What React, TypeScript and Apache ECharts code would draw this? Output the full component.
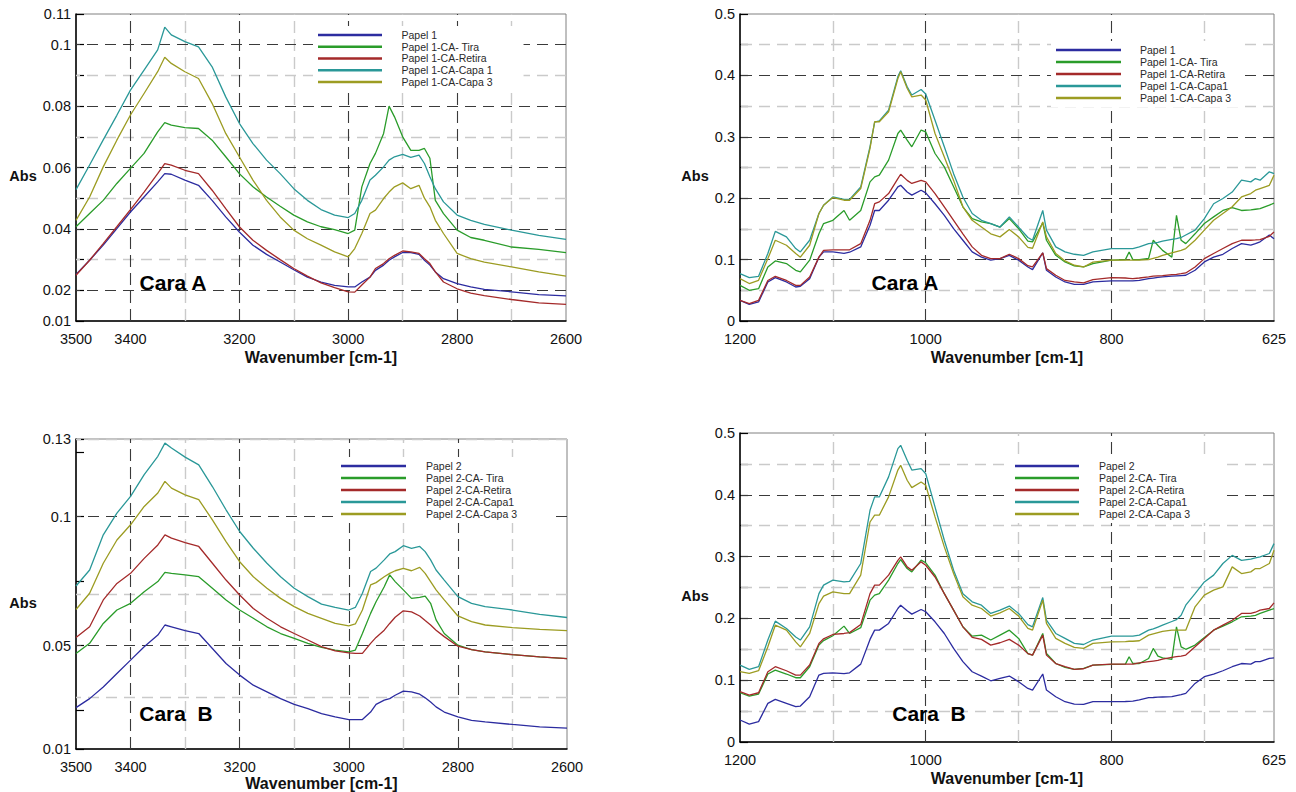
import React, { useEffect, useRef } from "react";
import * as echarts from "echarts";

// ---------- DATA ----------
const LEFT_WN = [3500,3475,3450,3425,3400,3375,3350,3337,3325,3300,3275,3250,3225,3200,3175,3150,3125,3100,3075,3050,3025,3000,2988,2975,2960,2950,2935,2925,2915,2900,2885,2870,2860,2850,2840,2825,2800,2775,2750,2700,2650,2600];
const RIGHT_WN = [1200,1190,1180,1170,1162,1150,1140,1135,1125,1115,1110,1100,1088,1082,1070,1060,1055,1050,1040,1030,1027,1020,1015,1005,1000,990,980,970,960,950,940,930,920,910,900,890,885,874,870,860,850,840,830,820,800,785,781,777,770,760,755,750,745,735,730,725,720,710,700,690,680,670,660,650,645,640,630,625];

const TL_NAMES = ["Papel 1", "Papel 1-CA- Tira", "Papel 1-CA-Retira", "Papel 1-CA-Capa 1", "Papel 1-CA-Capa 3"];
const TR_NAMES = ["Papel 1", "Papel 1-CA- Tira", "Papel 1-CA-Retira", "Papel 1-CA-Capa1", "Papel 1-CA-Capa 3"];
const B_NAMES = ["Papel 2", "Papel 2-CA- Tira", "Papel 2-CA-Retira", "Papel 2-CA-Capa1", "Papel 2-CA-Capa 3"];

// Top-left (Cara A, 3500-2600)
const tlBlue = [0.0252,0.0298,0.0347,0.0401,0.0455,0.0504,0.0553,0.058,0.0578,0.0559,0.0542,0.0493,0.0439,0.039,0.0347,0.0317,0.0292,0.0267,0.0243,0.0227,0.0216,0.0211,0.0211,0.0227,0.0243,0.0265,0.0282,0.0298,0.0309,0.0323,0.0323,0.0317,0.0298,0.0282,0.026,0.0238,0.0222,0.0211,0.0203,0.0195,0.0186,0.0182];
const tlTira = [0.0407,0.045,0.0493,0.0548,0.0597,0.0646,0.0716,0.0746,0.0738,0.073,0.0727,0.0689,0.0635,0.058,0.0537,0.0504,0.0474,0.0445,0.0423,0.0407,0.0398,0.0385,0.0396,0.0537,0.0613,0.0646,0.0711,0.08,0.0765,0.07,0.0656,0.0656,0.0662,0.063,0.0493,0.045,0.0396,0.0372,0.0363,0.0341,0.0333,0.0323];
const tlRetira = [0.0249,0.0298,0.0352,0.0407,0.0463,0.052,0.058,0.0613,0.0608,0.0591,0.058,0.0526,0.0466,0.0407,0.0363,0.033,0.03,0.0271,0.0246,0.0224,0.0209,0.0195,0.0194,0.0217,0.0243,0.0271,0.0287,0.0303,0.0314,0.0328,0.0325,0.032,0.0303,0.0287,0.026,0.0227,0.0205,0.0191,0.0183,0.017,0.0159,0.0154];
const tlCapa1 = [0.0528,0.0608,0.069,0.077,0.0852,0.0917,0.0983,0.1057,0.1032,0.101,0.0993,0.0928,0.083,0.0744,0.0678,0.0624,0.058,0.0531,0.0493,0.0463,0.0445,0.0437,0.045,0.0493,0.0559,0.0575,0.0602,0.0624,0.0635,0.0643,0.0633,0.064,0.0613,0.057,0.0531,0.0488,0.0445,0.0428,0.0415,0.0396,0.0379,0.0366];
const tlCapa3 = [0.0428,0.0504,0.0602,0.0689,0.0771,0.0841,0.0912,0.0959,0.0939,0.0912,0.089,0.0809,0.0711,0.0635,0.0559,0.0493,0.0439,0.0396,0.0368,0.0347,0.0325,0.0309,0.0336,0.0385,0.045,0.0461,0.0499,0.052,0.0537,0.055,0.0531,0.0542,0.05,0.0472,0.0428,0.0385,0.032,0.0303,0.0292,0.0276,0.026,0.0246];

// Bottom-left (Cara B, 3500-2600)
const blBlue = [0.026,0.0295,0.034,0.0392,0.0444,0.0496,0.0541,0.058,0.0573,0.0558,0.0547,0.0489,0.0431,0.0386,0.0347,0.0321,0.0295,0.0273,0.0256,0.0237,0.0224,0.0214,0.0214,0.0214,0.0243,0.0273,0.0289,0.0295,0.0308,0.0324,0.0321,0.0312,0.0298,0.0282,0.0263,0.0243,0.0224,0.0211,0.0205,0.0195,0.0186,0.0181];
const blTira = [0.047,0.0509,0.0586,0.0638,0.0664,0.0709,0.0748,0.0784,0.078,0.0774,0.0767,0.0722,0.0677,0.0638,0.0606,0.0573,0.0547,0.0528,0.0509,0.0493,0.0483,0.0476,0.0483,0.0547,0.0625,0.067,0.0728,0.0774,0.0748,0.0716,0.0683,0.0687,0.0692,0.0664,0.06,0.0547,0.0502,0.0485,0.0476,0.0465,0.0457,0.045];
const blRetira = [0.0532,0.0573,0.0677,0.0741,0.078,0.0838,0.089,0.0929,0.0916,0.0899,0.0884,0.0819,0.0754,0.0696,0.0644,0.0606,0.0573,0.0547,0.0522,0.0496,0.048,0.0472,0.047,0.047,0.0509,0.0532,0.056,0.0586,0.061,0.0635,0.0631,0.0615,0.0597,0.058,0.056,0.0535,0.0498,0.0485,0.0476,0.0465,0.0457,0.045];
const blCapa1 = [0.0731,0.0793,0.0929,0.1013,0.1078,0.1162,0.1233,0.1284,0.1265,0.123,0.12,0.1116,0.1026,0.0942,0.0877,0.0819,0.0767,0.0722,0.069,0.0661,0.0648,0.0638,0.0648,0.0703,0.0787,0.08,0.0832,0.0855,0.0864,0.0887,0.0877,0.0884,0.0864,0.0832,0.0793,0.0754,0.069,0.0664,0.0651,0.0638,0.0621,0.0609];
const blCapa3 = [0.064,0.0703,0.0819,0.0909,0.0968,0.1039,0.1091,0.1136,0.111,0.1084,0.1065,0.0987,0.0903,0.0825,0.0767,0.0722,0.0683,0.0651,0.0625,0.0606,0.0586,0.0577,0.0584,0.0638,0.0735,0.0744,0.0767,0.078,0.079,0.0799,0.079,0.0803,0.078,0.0748,0.0716,0.0677,0.0615,0.0593,0.058,0.057,0.0563,0.0558];

// Top-right (Cara A, 1200-625)
const trBlue = [0.0337,0.0272,0.031,0.0636,0.0707,0.0636,0.0554,0.0565,0.069,0.104,0.1125,0.1125,0.11,0.112,0.1207,0.156,0.18,0.18,0.1967,0.2185,0.221,0.21,0.205,0.213,0.2087,0.191,0.172,0.1505,0.1315,0.1125,0.104,0.099,0.1016,0.107,0.099,0.088,0.0837,0.111,0.0826,0.0717,0.0636,0.0598,0.0598,0.0636,0.0652,0.0652,0.0652,0.0652,0.066,0.069,0.07,0.071,0.072,0.073,0.0735,0.074,0.0745,0.0826,0.0962,0.104,0.1087,0.118,0.126,0.1234,0.126,0.129,0.14,0.134];
const trTira = [0.058,0.05,0.0527,0.088,0.0978,0.0935,0.0826,0.08,0.099,0.142,0.1587,0.164,0.18,0.164,0.18,0.2266,0.2348,0.2375,0.262,0.3054,0.311,0.2946,0.2837,0.311,0.308,0.2728,0.251,0.2185,0.186,0.1668,0.1614,0.1587,0.153,0.1668,0.1505,0.13,0.1288,0.16,0.1315,0.107,0.0962,0.0897,0.088,0.0935,0.099,0.1,0.1125,0.1,0.1,0.102,0.1315,0.123,0.115,0.104,0.172,0.1315,0.126,0.142,0.1587,0.1696,0.18,0.1848,0.18,0.181,0.182,0.183,0.1886,0.192];
const trRetira = [0.0337,0.0283,0.0337,0.066,0.0728,0.066,0.058,0.058,0.0717,0.104,0.115,0.116,0.116,0.116,0.126,0.164,0.191,0.194,0.2076,0.232,0.239,0.229,0.224,0.229,0.2266,0.2076,0.186,0.164,0.142,0.1207,0.107,0.1016,0.1016,0.1087,0.1016,0.09,0.088,0.111,0.0853,0.0745,0.066,0.0636,0.062,0.0674,0.0707,0.07,0.0695,0.069,0.07,0.0717,0.073,0.0735,0.074,0.0755,0.076,0.077,0.0783,0.088,0.1016,0.11,0.118,0.126,0.1315,0.1315,0.132,0.1326,0.138,0.145];
const trCapa1 = [0.077,0.0707,0.0728,0.11,0.146,0.137,0.118,0.1125,0.1315,0.175,0.1886,0.202,0.198,0.198,0.2185,0.284,0.324,0.326,0.3435,0.398,0.4076,0.3815,0.368,0.377,0.3696,0.327,0.2837,0.24,0.202,0.175,0.164,0.1587,0.153,0.1696,0.153,0.136,0.1315,0.18,0.148,0.1207,0.1125,0.1087,0.107,0.1125,0.118,0.118,0.118,0.118,0.1207,0.126,0.127,0.128,0.13,0.133,0.134,0.136,0.14,0.148,0.1668,0.191,0.1995,0.21,0.2293,0.2266,0.232,0.2293,0.243,0.24];
const trCapa3 = [0.069,0.061,0.0663,0.1016,0.1315,0.1234,0.11,0.104,0.1234,0.175,0.1886,0.201,0.1967,0.1967,0.2158,0.281,0.3245,0.3245,0.3408,0.395,0.406,0.379,0.365,0.368,0.36,0.3054,0.267,0.229,0.186,0.164,0.153,0.142,0.137,0.149,0.137,0.12,0.1185,0.1614,0.137,0.11,0.0978,0.0908,0.088,0.096,0.099,0.099,0.099,0.099,0.099,0.1,0.102,0.104,0.107,0.111,0.113,0.115,0.118,0.1315,0.148,0.164,0.175,0.186,0.202,0.2076,0.213,0.2157,0.221,0.2375];

// Bottom-right (Cara B, 1200-625)
const brBlue = [0.0356,0.029,0.0329,0.0625,0.069,0.0625,0.0571,0.0582,0.0733,0.1083,0.111,0.112,0.1105,0.112,0.126,0.166,0.181,0.181,0.1918,0.216,0.2214,0.2123,0.2069,0.2144,0.2107,0.1945,0.1756,0.1514,0.13,0.1137,0.1067,0.0991,0.1029,0.1067,0.0975,0.0867,0.084,0.11,0.084,0.0733,0.0652,0.0614,0.061,0.0652,0.0652,0.0655,0.0658,0.066,0.068,0.0717,0.072,0.0725,0.0728,0.0733,0.075,0.0765,0.0787,0.0948,0.1056,0.11,0.1153,0.1218,0.127,0.126,0.13,0.13,0.1352,0.136];
const brTira = [0.0797,0.0744,0.0776,0.11,0.1164,0.11,0.104,0.104,0.1218,0.1568,0.164,0.172,0.1875,0.1756,0.185,0.2295,0.2376,0.2402,0.262,0.2888,0.2953,0.2807,0.2753,0.2942,0.29,0.27,0.24,0.2134,0.1864,0.1713,0.173,0.165,0.173,0.181,0.1676,0.143,0.1406,0.1756,0.1433,0.127,0.1207,0.1175,0.1191,0.1245,0.1255,0.126,0.138,0.127,0.127,0.1352,0.1514,0.139,0.136,0.1336,0.1864,0.154,0.15,0.1568,0.1692,0.181,0.1875,0.1945,0.2026,0.2037,0.205,0.208,0.2134,0.216];
const brRetira = [0.0814,0.076,0.0797,0.1137,0.1218,0.1153,0.1083,0.1083,0.1245,0.1595,0.167,0.174,0.1756,0.177,0.19,0.24,0.2538,0.2538,0.27,0.294,0.2996,0.2834,0.278,0.2915,0.286,0.267,0.24,0.2134,0.1864,0.1692,0.166,0.1568,0.1606,0.166,0.1568,0.143,0.1406,0.173,0.1406,0.127,0.1218,0.1175,0.1185,0.1245,0.126,0.126,0.126,0.126,0.128,0.13,0.131,0.132,0.134,0.137,0.138,0.139,0.1406,0.154,0.1676,0.181,0.189,0.197,0.208,0.208,0.21,0.2134,0.216,0.2252];
const brCapa1 = [0.1245,0.1175,0.1218,0.165,0.1956,0.1837,0.17,0.165,0.1864,0.24,0.2538,0.262,0.259,0.26,0.2888,0.375,0.3966,0.3966,0.429,0.4747,0.48,0.4558,0.44,0.4423,0.434,0.3804,0.3265,0.278,0.24,0.2268,0.2214,0.208,0.2134,0.22,0.208,0.19,0.1864,0.2338,0.1972,0.1756,0.1676,0.1595,0.1578,0.165,0.1713,0.1713,0.1713,0.1713,0.173,0.181,0.183,0.186,0.189,0.195,0.198,0.205,0.2214,0.24,0.259,0.27,0.2888,0.302,0.294,0.2958,0.298,0.2996,0.305,0.321];
const brCapa3 = [0.1137,0.111,0.1153,0.154,0.189,0.181,0.162,0.154,0.1756,0.224,0.236,0.243,0.24,0.24,0.27,0.356,0.367,0.367,0.3966,0.44,0.4477,0.4235,0.4116,0.4208,0.4154,0.3642,0.3157,0.2726,0.235,0.2214,0.216,0.2037,0.209,0.216,0.2037,0.184,0.181,0.2295,0.1918,0.1676,0.1595,0.153,0.1514,0.1595,0.162,0.1625,0.163,0.163,0.1638,0.173,0.175,0.177,0.179,0.181,0.181,0.181,0.181,0.2188,0.2376,0.2457,0.251,0.2834,0.2726,0.2753,0.2807,0.2807,0.2888,0.3103];

// Tick labels / grid lines
const LEFT_X_LABELS = [3500, 3400, 3200, 3000, 2800, 2600];
const LEFT_X_MAJOR = [3400, 3200, 3000, 2800];
const LEFT_X_MINOR = [3300, 3100, 2900, 2700];
const RIGHT_X_LABELS = [1200, 1000, 800, 625];
const RIGHT_X_MAJOR = [1000, 800];
const RIGHT_X_MINOR = [1100, 900, 700];
const TL_Y_LABELS = [0.01, 0.02, 0.04, 0.06, 0.08, 0.1, 0.11];
const TL_Y_MAJOR = [0.02, 0.04, 0.06, 0.08, 0.1];
const TL_Y_MINOR = [0.03, 0.05, 0.07, 0.09];
const BL_Y_LABELS = [0.01, 0.05, 0.1, 0.13];
const BL_Y_MAJOR = [0.05, 0.1];
const BL_Y_MINOR = [0.025, 0.075, 0.125];
const R_Y_LABELS = [0, 0.1, 0.2, 0.3, 0.4, 0.5];
const R_Y_MAJOR = [0.1, 0.2, 0.3, 0.4];
const R_Y_MINOR = [0.05, 0.15, 0.25, 0.35, 0.45];

const X_TITLE = "Wavenumber [cm-1]";
const Y_TITLE = "Abs";
const CARA_TEXT = ["Cara A", "Cara A", "Cara  B", "Cara  B"];

const SERIES_COLORS = ["#2c2ca0", "#2a9c2a", "#a42a2a", "#2a9898", "#9c9c22"];

// ---------- LAYOUT ----------
const FONT = "'Liberation Sans', Arial, Helvetica, sans-serif";
const GRIDS = [
  { left: 76, top: 14, width: 490, height: 307 },
  { left: 740, top: 14, width: 534, height: 307 },
  { left: 76, top: 439, width: 491, height: 310 },
  { left: 740, top: 433, width: 534, height: 309 },
];

const fmt = (v: number) => String(Number(Number(v).toFixed(4)));

function pairs(xs: number[], ys: number[]) {
  return xs.map((x, i) => [x, ys[i]]);
}

function buildOption() {
  const panels = [
    { names: TL_NAMES, wn: LEFT_WN, vals: [tlBlue, tlTira, tlRetira, tlCapa1, tlCapa3], xmin: 2600, xmax: 3500, ymin: 0.01, ymax: 0.11,
      xLabels: LEFT_X_LABELS, xMaj: LEFT_X_MAJOR, xMin: LEFT_X_MINOR, yLabels: TL_Y_LABELS, yMaj: TL_Y_MAJOR, yMin: TL_Y_MINOR },
    { names: TR_NAMES, wn: RIGHT_WN, vals: [trBlue, trTira, trRetira, trCapa1, trCapa3], xmin: 625, xmax: 1200, ymin: 0, ymax: 0.5,
      xLabels: RIGHT_X_LABELS, xMaj: RIGHT_X_MAJOR, xMin: RIGHT_X_MINOR, yLabels: R_Y_LABELS, yMaj: R_Y_MAJOR, yMin: R_Y_MINOR },
    { names: B_NAMES, wn: LEFT_WN, vals: [blBlue, blTira, blRetira, blCapa1, blCapa3], xmin: 2600, xmax: 3500, ymin: 0.01, ymax: 0.13,
      xLabels: LEFT_X_LABELS, xMaj: LEFT_X_MAJOR, xMin: LEFT_X_MINOR, yLabels: BL_Y_LABELS, yMaj: BL_Y_MAJOR, yMin: BL_Y_MINOR },
    { names: B_NAMES, wn: RIGHT_WN, vals: [brBlue, brTira, brRetira, brCapa1, brCapa3], xmin: 625, xmax: 1200, ymin: 0, ymax: 0.5,
      xLabels: RIGHT_X_LABELS, xMaj: RIGHT_X_MAJOR, xMin: RIGHT_X_MINOR, yLabels: R_Y_LABELS, yMaj: R_Y_MAJOR, yMin: R_Y_MINOR },
  ];
  const nameGaps = [28, 28, 26, 28];

  const grid = GRIDS.map((g) => ({ ...g, show: true, borderColor: "#808080", borderWidth: 1, backgroundColor: "transparent" }));

  const xAxis = panels.map((p, i) => ({
    gridIndex: i, type: "value", min: p.xmin, max: p.xmax, inverse: true,
    axisLine: { show: true, onZero: false, lineStyle: { color: "#000", width: 1.5 } },
    axisTick: { show: false },
    splitLine: { show: false },
    axisLabel: { customValues: p.xLabels, margin: 10, fontSize: 14.5, color: "#111", fontFamily: FONT, formatter: (v: number) => String(v) },
    name: X_TITLE, nameLocation: "middle", nameGap: nameGaps[i],
    nameTextStyle: { fontWeight: "bold", fontSize: 16, color: "#111", fontFamily: FONT },
  }));

  const yAxis = panels.map((p, i) => ({
    gridIndex: i, type: "value", min: p.ymin, max: p.ymax,
    axisLine: { show: true, onZero: false, lineStyle: { color: "#000", width: 1.5 } },
    axisTick: { show: true, inside: true, length: 8, customValues: [...p.yLabels, ...p.yMin], lineStyle: { color: "#000", width: 1.2 } },
    splitLine: { show: false },
    axisLabel: { customValues: p.yLabels, margin: 5, fontSize: 14.5, color: "#111", fontFamily: FONT, formatter: fmt },
  }));

  const darkH = { color: "#3a3a3a", type: [11, 7], width: 1.1 };
  const darkV = { color: "#3a3a3a", type: [12, 6], width: 1.1 };
  const lightH = { color: "#cacaca", type: [11, 7], width: 1.4 };
  const lightV = { color: "#cacaca", type: [12, 6], width: 1.4 };

  const series: any[] = [];
  panels.forEach((p, i) => {
    series.push({
      type: "line", xAxisIndex: i, yAxisIndex: i, data: [[p.xmin, p.ymin]], showSymbol: false, silent: true, z: 1,
      lineStyle: { opacity: 0 },
      markLine: {
        silent: true, symbol: ["none", "none"], label: { show: false }, z: 1, animation: false,
        data: [
          ...p.yMin.map((v) => ({ yAxis: v, lineStyle: lightH })),
          ...p.xMin.map((v) => ({ xAxis: v, lineStyle: lightV })),
          ...p.yMaj.map((v) => ({ yAxis: v, lineStyle: darkH })),
          ...p.xMaj.map((v) => ({ xAxis: v, lineStyle: darkV })),
        ],
      },
    });
    p.names.forEach((name, k) => {
      series.push({
        type: "line", name, xAxisIndex: i, yAxisIndex: i, data: pairs(p.wn, p.vals[k]),
        showSymbol: false, symbol: "none", z: 3, color: SERIES_COLORS[k],
        lineStyle: { width: 1.3, color: SERIES_COLORS[k] },
      });
    });
  });

  const legendCfg = [
    { left: 313, top: 26, padding: [3, 31, 3, 5], itemWidth: 64, lineHeight: 11.75, textPad: 14.5, data: TL_NAMES },
    { left: 1051, top: 41, padding: [3, 13, 3, 5], itemWidth: 65, lineHeight: 12, textPad: 14, data: TR_NAMES },
    { left: 336, top: 457, padding: [3, 32, 3, 5], itemWidth: 65, lineHeight: 12, textPad: 15, data: B_NAMES },
    { left: 1010, top: 457, padding: [3, 32, 3, 5], itemWidth: 64, lineHeight: 12, textPad: 15, data: B_NAMES },
  ];
  const legend = legendCfg.map((l) => ({
    orient: "vertical", left: l.left, top: l.top, padding: l.padding, itemWidth: l.itemWidth, itemHeight: 2.5,
    itemGap: 0, icon: "rect", backgroundColor: "#fff", selectedMode: false,
    textStyle: { fontSize: 10.5, lineHeight: l.lineHeight, padding: [0, 0, 0, l.textPad], color: "#2a2a2a", fontFamily: FONT },
    data: l.data,
  }));

  const absPos = [[23, 176], [695, 176], [23, 603], [695, 596]];
  const caraPos = [[173, 282], [905, 282], [176, 713], [929, 713]];
  const graphic: any[] = [];
  absPos.forEach(([x, y]) => graphic.push({
    type: "text", x, y, z: 10,
    style: { text: Y_TITLE, fontSize: 14.5, fontWeight: "bold", fontFamily: FONT, fill: "#111", align: "center", verticalAlign: "middle" },
  }));
  caraPos.forEach(([x, y], i) => graphic.push({
    type: "text", x, y, z: 10,
    style: { text: CARA_TEXT[i], fontSize: 21, fontWeight: "bold", fontFamily: FONT, fill: "#000", align: "center", verticalAlign: "middle" },
  }));

  return {
    animation: false,
    backgroundColor: "#fff",
    textStyle: { fontFamily: FONT },
    grid, xAxis, yAxis, series, legend, graphic,
  };
}

export default function App() {
  const ref = useRef<HTMLDivElement>(null);
  useEffect(() => {
    if (!ref.current) return;
    const chart = echarts.init(ref.current, null, { renderer: "svg" });
    chart.setOption(buildOption() as any);
    return () => chart.dispose();
  }, []);
  return <div ref={ref} style={{ position: "absolute", left: 0, top: 0, width: 1296, height: 792 }} />;
}
